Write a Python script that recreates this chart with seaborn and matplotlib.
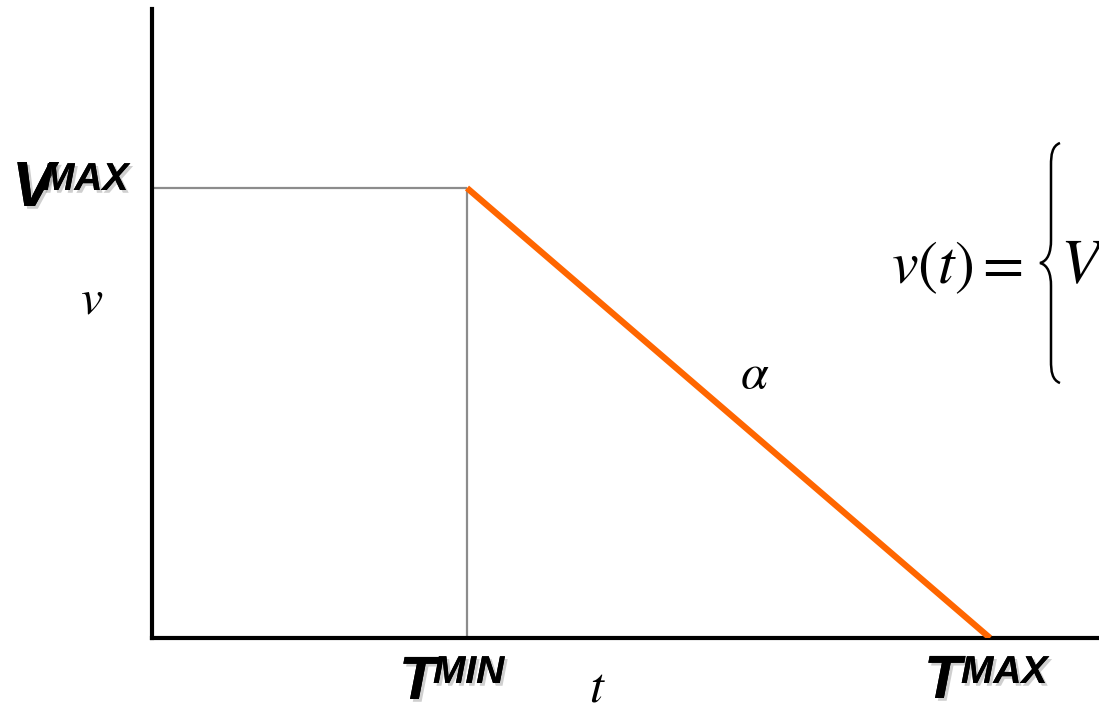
import matplotlib
matplotlib.use("Agg")
import matplotlib.pyplot as plt
import matplotlib.patheffects as pe
from matplotlib.path import Path
from matplotlib.patches import PathPatch
import seaborn as sns
import pandas as pd

# Data (axis units: t from 0 to 9.47, v from 0 to 6.29)
t_points = [3.15, 8.38]      # T_MIN, T_MAX
v_points = [4.50, 0.0]       # V_MAX at T_MIN, 0 at T_MAX
t_label_text = ["T", "MIN", "T", "MAX"]

sns.set_style("white")
plt.rcParams["mathtext.fontset"] = "stix"

W, H = 1099, 707
fig = plt.figure(figsize=(W / 100, H / 100), dpi=100)

def fx(x):
    return x / W

def fy(y):
    return 1 - y / H

ax = fig.add_axes([fx(152), fy(638), fx(1099) - fx(152), fy(9) - fy(638)])
ax.set_xlim(0, 9.47)
ax.set_ylim(0, 6.29)

df = pd.DataFrame({"t": t_points, "v": v_points})

# guide lines
ax.plot([0, t_points[0]], [v_points[0], v_points[0]], color="#8c8c8c", lw=1.6,
        solid_capstyle="butt", zorder=2)
ax.plot([t_points[0], t_points[0]], [0, v_points[0]], color="#8c8c8c", lw=1.6,
        solid_capstyle="butt", zorder=2)

sns.lineplot(data=df, x="t", y="v", color="#FF6600", lw=4.5, ax=ax, zorder=3,
             solid_capstyle="butt")

for s in ["top", "right"]:
    ax.spines[s].set_visible(False)
for s in ["left", "bottom"]:
    ax.spines[s].set_linewidth(3)
    ax.spines[s].set_color("black")
    ax.spines[s].set_capstyle("projecting")
ax.set_xticks([])
ax.set_yticks([])
ax.set_xlabel("")
ax.set_ylabel("")

shadow = [pe.withSimplePatchShadow(offset=(2, -2), shadow_rgbFace="#888888", alpha=0.4),
          pe.Normal()]
bold = dict(family="Liberation Sans", fontweight="bold", fontstyle="italic",
            color="black", ha="left", va="baseline", path_effects=shadow)

# V^MAX
fig.text(fx(12), fy(206), "V", fontsize=46, **bold)
fig.text(fx(42), fy(190), "MAX", fontsize=28, **bold)
# T^MIN
fig.text(fx(399), fy(699), t_label_text[0], fontsize=44, **bold)
fig.text(fx(433), fy(683), t_label_text[1], fontsize=28, **bold)
# T^MAX
fig.text(fx(924), fy(698), t_label_text[2], fontsize=44, **bold)
fig.text(fx(961), fy(683), t_label_text[3], fontsize=28, **bold)

serif = dict(ha="left", va="baseline", color="black")
fig.text(fx(80), fy(313), r"$v$", fontsize=36, **serif)
fig.text(fx(589), fy(702), r"$t$", fontsize=36, **serif)
fig.text(fx(740), fy(388), r"$\alpha$", fontsize=36, **serif)

fig.text(fx(891), fy(283), r"$v(t) =$", fontsize=43, **serif)
fig.text(fx(1060), fy(283), r"$V$", fontsize=46, **serif)

# brace
verts_px = [
    (1060, 143), (1052, 146), (1051, 155), (1051, 165),
    (1051, 240),
    (1051, 252), (1048, 261), (1040, 263),
    (1048, 265), (1051, 274), (1051, 286),
    (1051, 361),
    (1051, 371), (1052, 380), (1060, 383),
]
codes = [Path.MOVETO, Path.CURVE4, Path.CURVE4, Path.CURVE4,
         Path.LINETO,
         Path.CURVE4, Path.CURVE4, Path.CURVE4,
         Path.CURVE4, Path.CURVE4, Path.CURVE4,
         Path.LINETO,
         Path.CURVE4, Path.CURVE4, Path.CURVE4]
verts = [(fx(x), fy(y)) for x, y in verts_px]
fig.patches.append(PathPatch(Path(verts, codes), transform=fig.transFigure,
                             fill=False, lw=1.8, edgecolor="black"))

fig.savefig("out.png", dpi=100)
